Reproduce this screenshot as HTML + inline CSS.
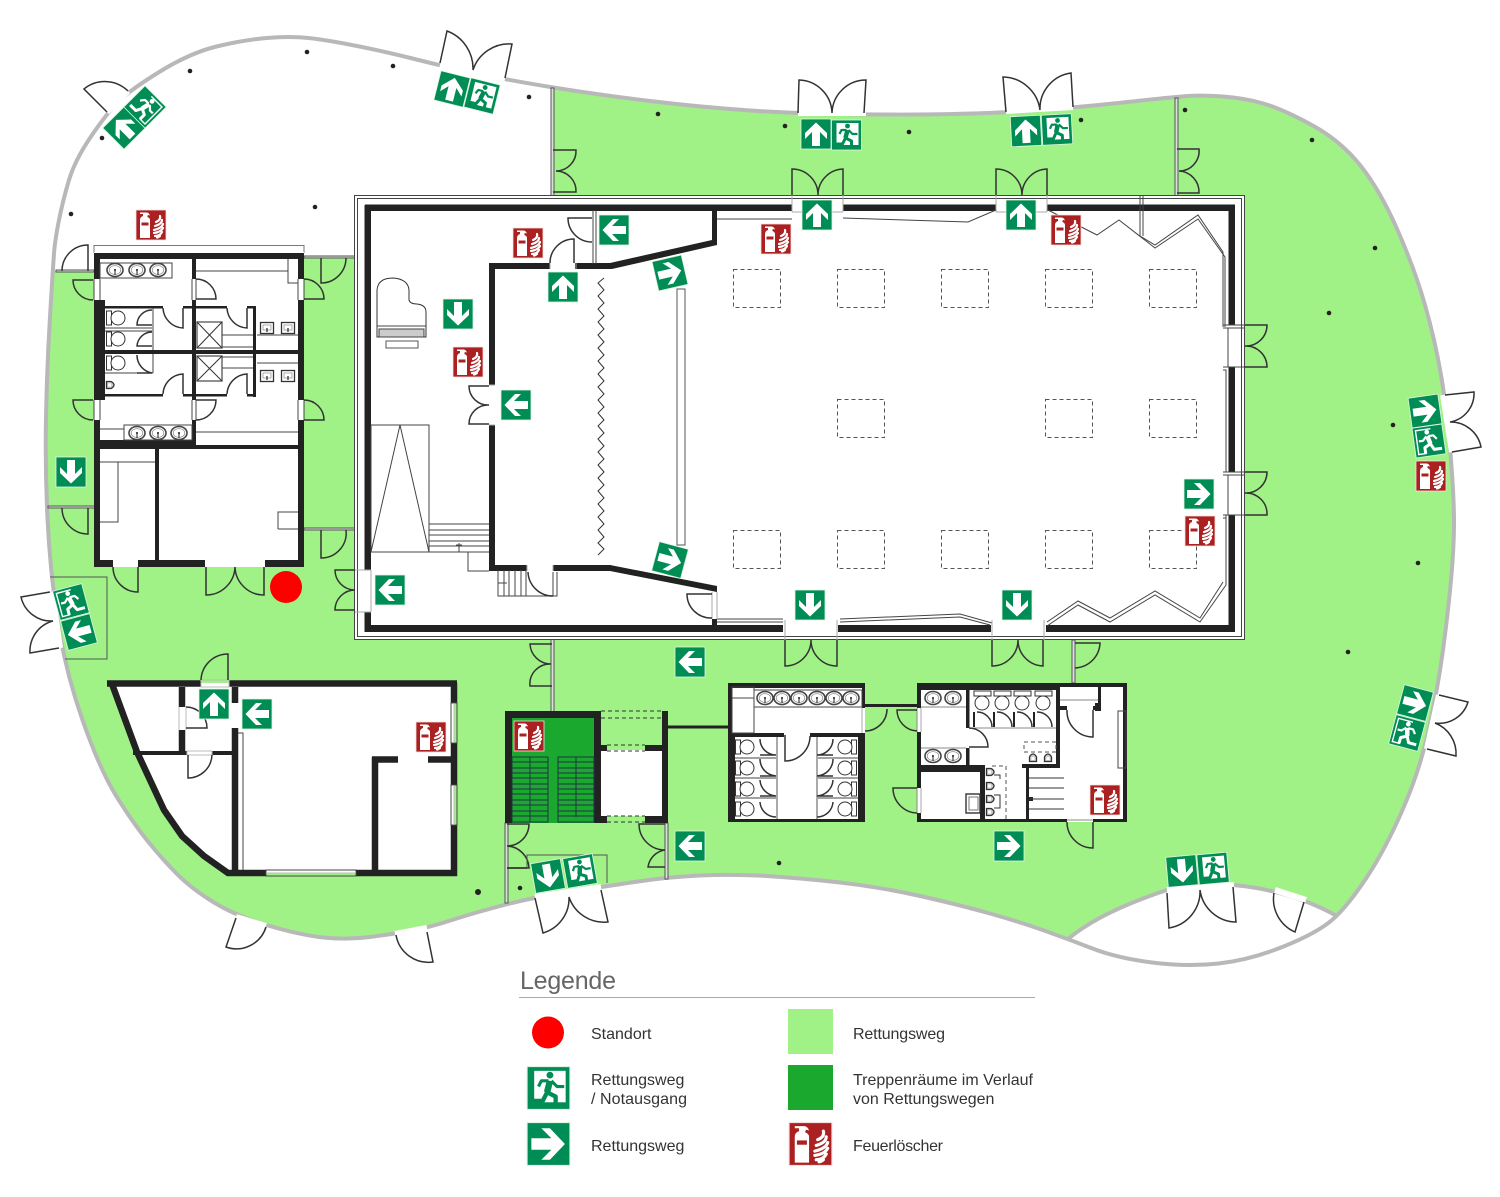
<!DOCTYPE html>
<html>
<head>
<meta charset="utf-8">
<style>
html,body{margin:0;padding:0;background:#fff}
svg{display:block}
text{font-family:"Liberation Sans",sans-serif;fill:#333}
.d{fill:none;stroke:#333;stroke-width:1.5}
.t{fill:none;stroke:#444;stroke-width:1}
.g{fill:#fff;stroke:#777;stroke-width:1}
.w{fill:#222}
.sill{stroke:#fff;stroke-width:6;fill:none}
</style>
</head>
<body>
<svg width="1500" height="1197" viewBox="0 0 1500 1197" xmlns="http://www.w3.org/2000/svg">
<defs>
<path id="blob" d="M91 136.5Q107 113 118.5 101.5Q130 90 160 71.5Q190 53 216.5 46.5Q243 40 266.5 38Q290 36 308.5 38Q327 40 357 46Q387 52 412.5 58.5Q438 65 472.5 72.5Q507 80 553.5 87.5Q600 95 650 101Q700 107 750 110.5Q800 114 880 114.5Q960 115 1016.5 111.5Q1073 108 1123 102.5Q1173 97 1188 96Q1203 95 1223 96.5Q1243 98 1261.5 103Q1280 108 1310 124Q1340 140 1360 165Q1380 190 1397.5 230Q1415 270 1425 305Q1435 340 1441 375Q1447 410 1450.5 453.5Q1454 497 1454 522Q1454 547 1451 580Q1448 613 1443 650Q1438 687 1429 728.5Q1420 770 1402.5 810Q1385 850 1366 878.5Q1347 907 1332 920Q1317 933 1283.5 946.5Q1250 960 1218.5 963.5Q1187 967 1152 962.5Q1117 958 1092.5 948.5Q1068 939 1044 930.5Q1020 922 990 913.5Q960 905 920 896Q880 887 840 882.5Q800 878 766.5 876Q733 874 700 875.5Q667 877 634.5 882Q602 887 568.5 892Q535 897 506 904.5Q477 912 452 920Q427 928 410 931Q393 934 370 937Q347 940 323.5 937.5Q300 935 268 925.5Q236 916 214 902.5Q192 889 177.5 874.5Q163 860 148 841.5Q133 823 116.5 796.5Q100 770 82.5 720Q65 670 57.5 620Q50 570 47.5 518.5Q45 467 46 417Q47 367 50 317Q53 267 54 253.5Q55 240 59 220Q63 200 69 180Q75 160 91 136.5Z"/>
<clipPath id="bc"><use href="#blob"/></clipPath>
<g id="ar"><rect x="-15" y="-15" width="30" height="30" fill="#008c55" stroke="#dff5e0" stroke-width=".8"/><polygon fill="#fff" points="11.5,0 1,-11 -5,-11 2,-4 -12,-4 -12,4 2,4 -5,11 1,11"/></g>
<g id="mn"><rect x="-15" y="-15" width="30" height="30" fill="#008c55" stroke="#dff5e0" stroke-width=".8"/><rect x="-10" y="-12" width="22" height="22" fill="#fff"/><circle cx="1" cy="-9" r="2.4" fill="#008c55"/><g fill="none" stroke="#008c55" stroke-linejoin="round"><path d="M1 -5L-1 3" stroke-width="4.5"/><path d="M2 -5L6 -1H11" stroke-width="2.2"/><path d="M0 -5H-5L-7 -1" stroke-width="2.2"/><path d="M-1 3L5 6L5 12" stroke-width="3"/><path d="M-1 3L-4 9H-11" stroke-width="3"/></g></g>
<g id="mw"><rect x="-15" y="-15" width="30" height="30" fill="#008c55" stroke="#dff5e0" stroke-width=".8"/><path d="M-3 -12H12V12H4" fill="none" stroke="#fff" stroke-width="1.4"/><circle cx="1" cy="-9" r="2.4" fill="#fff"/><g fill="none" stroke="#fff" stroke-linejoin="round"><path d="M1 -5L-1 3" stroke-width="4.5"/><path d="M2 -5L6 -1H10" stroke-width="2.2"/><path d="M0 -5H-5L-8 -1" stroke-width="2.2"/><path d="M-1 3L5 6L5 12" stroke-width="3"/><path d="M-1 3L-4 9H-12" stroke-width="3"/></g></g>
<g id="fe"><rect x="-15" y="-15" width="30" height="30" fill="#ab2020" stroke="#f5dede" stroke-width=".8"/><path d="M-11 -5Q-11 -8 -8 -9V-11H-11V-12.5H-4Q-2 -12 -1 -9.5L-3 -10Q-4 -9 -3.5 -8Q-1 -7 -1 -5V13H-11Z" fill="#fff"/><rect x="-9.5" y="-2.5" width="7" height="3" fill="#ab2020"/><g fill="none" stroke="#fff" stroke-width="2.2" stroke-linecap="round"><path d="M9 -9Q10 -5 5 -3"/><path d="M11 -5Q11 -1 4 1"/><path d="M12 -1Q11 3 3 5"/><path d="M12 3Q10 7 3 8"/><path d="M11 7Q9 11 4 11"/><path d="M9 11Q8 12 6 12.5"/></g></g>
<g id="sk"><ellipse rx="8" ry="6.5" fill="#fff" stroke="#444" stroke-width="1.6"/><ellipse rx="5.8" ry="4.4" fill="#fff" stroke="#888" stroke-width=".7"/><path d="M0 -1V5" stroke="#222" stroke-width="1"/><circle r="1" fill="#222"/></g>
<g id="ss"><rect x="-6.5" y="-5.5" width="13" height="11" fill="#fff" stroke="#333" stroke-width="1.3"/><rect x="-4" y="-3" width="8" height="5" fill="#fff" stroke="#777" stroke-width=".6"/><path d="M0 0V4" stroke="#222" stroke-width="1.2"/></g>
<g id="tl"><rect x="-11.500" y="-7" width="5" height="14" fill="#fff" stroke="#333"/><ellipse cx="0" cy="0" rx="7" ry="7" fill="#fff" stroke="#333"/></g>
<g id="ur"><path d="M-3.5 -3.5H1Q4 -2 4 0Q4 2 1 3.5H-3.5Z" fill="#ccc" stroke="#333" stroke-width="1.3"/><path d="M-2 -1.5H1V1.5H-2Z" fill="#fff"/></g>
</defs>

<!-- site -->
<use href="#blob" fill="#fff"/>
<g clip-path="url(#bc)">
<rect width="1500" height="1000" fill="#a0f286"/>
<polygon fill="#fff" points="0,0 552,0 552,195 355,195 355,256 304,256 304,245 94,245 94,271 0,271"/>
<path fill="#fff" d="M1068 939Q1100 912 1167 890Q1200 884 1233 885Q1290 890 1337 916L1450 1000H1000Z"/>
</g>
<path d="M1068 939Q1100 912 1167 890Q1200 884 1233 885Q1290 890 1337 916" fill="none" stroke="#b8b8b8" stroke-width="4"/>
<use href="#blob" fill="none" stroke="#b8b8b8" stroke-width="4"/>

<!-- exterior door sills -->
<g class="sill">
<path d="M107 112L128 91"/><path d="M440 65L505 79"/><path d="M798 113L866 113"/><path d="M1006 111L1073 107"/>
<path d="M1443 395L1452 452"/><path d="M1439 695L1427 749"/><path d="M52 592L60 648"/>
<path d="M1167 890L1234 885"/><path d="M1275 890L1306 900"/><path d="M236 917L266 926"/><path d="M395 934L427 928"/><path d="M535 897L601 887"/>
</g>
<g class="d">
<path d="M107 112L84 89A33 33 0 0 1 128 91"/>
<path d="M440 63L447 31A40 40 0 0 1 473 70A38 38 0 0 1 512 44L505 78"/>
<path d="M798 113L799 80A34 34 0 0 1 832 113A34 34 0 0 1 866 80L864 113"/>
<path d="M1006 112L1003 77A38 38 0 0 1 1040 110A36 36 0 0 1 1071 73L1073 107"/>
<path d="M1445 395L1474 392A29 29 0 0 1 1450 422A31 31 0 0 1 1481 447L1452 452"/>
<path d="M1439 695L1468 702A30 30 0 0 1 1435 723A33 33 0 0 1 1456 756L1427 749"/>
<path d="M50 592L21 597A31 31 0 0 0 53 621A31 31 0 0 0 30 653L59 648"/>
<path d="M1167 893L1169 928A37 37 0 0 0 1200 890A37 37 0 0 0 1236 922L1233 887"/>
<path d="M1304 902L1295 932A36 36 0 0 1 1274 893"/>
<path d="M236 918L226 947A31 31 0 0 0 266 927"/>
<path d="M427 932L433 962A33 33 0 0 1 396 935"/>
<path d="M535 898L543 933A36 36 0 0 0 569 897A37 37 0 0 0 608 922L601 890"/>
</g>
<path d="M50 577H107V659H65" fill="none" stroke="#555" stroke-width="1"/>

<!-- fences -->
<g fill="#ddd" stroke="#555" stroke-width="1">
<rect x="551" y="88" width="3" height="117"/><rect x="1175" y="98" width="3" height="107"/>
<rect x="551" y="632" width="3" height="80"/><rect x="1072" y="640" width="3" height="43"/>
<rect x="505" y="823" width="3" height="80"/><rect x="665" y="823" width="3" height="56"/>
<rect x="304" y="256" width="61" height="2"/><rect x="304" y="528" width="61" height="2"/>
<rect x="48" y="506" width="47" height="2"/><rect x="56" y="270" width="38" height="2"/>
</g>
<g class="d">
<path d="M553 150H576A20 20 0 0 1 556 171A20 20 0 0 1 576 192H553"/>
<path d="M1177 149H1199A20 20 0 0 1 1179 171A21 21 0 0 1 1199 193H1177"/>
<path d="M552 644H530A21 21 0 0 0 551 664A20 20 0 0 0 530 686H552"/>
<path d="M1075 643H1100A26 26 0 0 1 1075 668"/>
<path d="M507 824H529A22 22 0 0 1 507 846A23 23 0 0 1 529 868H507"/>
<path d="M665 824H639A26 26 0 0 0 665 850A20 20 0 0 0 648 867H665"/>
<path d="M527 868V855H607V883" stroke="#555" stroke-width="1"/><path d="M507 868H527"/>
</g>

<!-- main hall -->
<rect x="354.5" y="195.5" width="890" height="444" fill="#fff" stroke="#444" stroke-width="1"/>
<rect x="357.5" y="198.5" width="884" height="438" fill="none" stroke="#444" stroke-width="1"/>
<g class="w">
<rect x="365" y="204.500" width="427" height="6.500"/><rect x="843" y="204.500" width="153" height="6.500"/><rect x="1047" y="204.500" width="188" height="6.500"/>
<rect x="365" y="625" width="418" height="7"/><rect x="838" y="625" width="153" height="7"/><rect x="1046" y="625" width="189" height="7"/>
<rect x="364.500" y="205" width="6.500" height="365"/><rect x="364.500" y="612" width="6.500" height="20"/>
<rect x="1228.500" y="205" width="6.500" height="120"/><rect x="1228.500" y="367" width="6.500" height="105"/><rect x="1228.500" y="515" width="6.500" height="117"/>
<rect x="489" y="263" width="6" height="122"/><rect x="489" y="425" width="6" height="145"/>
<rect x="489" y="263" width="61" height="6"/><rect x="575" y="263" width="37" height="6"/>
<polygon points="610,263 712,240 712,210 717,210 717,245 612,269"/>
<rect x="489" y="565" width="38" height="6"/><rect x="553" y="565" width="58" height="6"/>
<polygon points="610,565 717,586 717,592 610,571"/>
<rect x="712" y="619" width="5" height="8"/>
</g>
<rect x="365" y="570" width="6" height="42" fill="#fff"/>
<!-- door gaps and zigzag walls -->
<g class="t">
<path d="M355 570H371M355 612H371M371 570V612" stroke="#aaa"/>
<path d="M792 195V212M843 195V212M792 212H843M996 195V212M1047 195V212M996 212H1047" stroke="#aaa"/>
<path d="M717 219H792M843 218L968 222L996 210M1048 210L1097 235L1119 220L1155 248L1198 219L1225 257V327"/>
<path d="M1140 195V236L1155 245L1198 215L1223 252V327M1143 195V236"/>
<path d="M1223 325H1245M1223 328H1245M1228 328V367M1223 367H1245M1223 370H1226V472H1223M1223 472H1245M1223 475H1245M1228 475V515M1223 515H1245M1223 518H1226V582"/>
<path d="M717 622H783M717 619H783M840 622L960 617L990 625M840 619L960 614L992 623M1047 626L1078 605L1110 622L1155 595L1200 622L1226 585V515M1047 622L1078 601L1110 618L1155 591L1200 618L1223 582"/>
<path d="M785 620V640M837 620V640M992 620V640M1044 620V640" stroke="#aaa"/>
<path d="M593 210V264M596 210V264"/>
<path d="M489 385H495M489 425H495M550 263V269M576 263V269M527 565V571M553 565V571M712 592V619M717 592V619" stroke="#aaa"/>
<rect x="677" y="289" width="8" height="256" fill="#fff" stroke="#555"/>
<polyline stroke="#333" points="604,278 598,283 604,290 598,296 604,303 598,309 604,316 598,322 604,329 598,335 604,342 598,348 604,355 598,361 604,368 598,374 604,381 598,387 604,394 598,400 604,407 598,413 604,420 598,426 604,433 598,439 604,446 598,452 604,459 598,465 604,472 598,478 604,485 598,491 604,498 598,504 604,511 598,517 604,524 598,530 604,537 598,543 604,549 598,555"/>
<!-- piano -->
<path d="M377 337V290Q378 278 393 278Q408 279 409 290V300Q410 304 417 304Q426 305 426 312V337Z" fill="#fff" stroke="#333"/>
<path d="M377 326H426"/><rect x="379" y="329" width="45" height="8" fill="#ccc" stroke="#444"/><rect x="386" y="341" width="32" height="7" fill="#fff" stroke="#555"/>
<!-- stage stairs -->
<rect x="371" y="425" width="58" height="127"/><path d="M400 425L371 552M400 425L429 552"/>
<path d="M429 524H489M429 530H489M429 535H489M429 541H489M429 546H489M371 552H489"/>
<path d="M468 552V571H489M459 543V552M456 545H462"/>
<path d="M498 570V596H557V572M504 570V596M509 570V596M515 570V596M521 570V596M526 570V596M553 572V596M498 583H507"/>
</g>
<g class="d">
<path d="M489 386H469A19 19 0 0 0 489 405A19 19 0 0 0 469 424H489"/>
<path d="M550 263A24 24 0 0 1 574 239V263"/>
<path d="M592 218H568A24 24 0 0 0 592 242"/>
<path d="M712 594H687A24 24 0 0 0 712 618"/>
<path d="M528 572A25 25 0 0 0 553 596"/>
<path d="M355 570H335A20 20 0 0 0 355 590A20 20 0 0 0 335 610H355"/>
<path d="M792 195V169A26 26 0 0 1 818 195A26 26 0 0 1 843 169V195"/>
<path d="M996 195V169A26 26 0 0 1 1022 195A26 26 0 0 1 1047 169V195"/>
<path d="M1245 325H1267A21 21 0 0 1 1245 346A21 21 0 0 1 1267 367H1245"/>
<path d="M1245 472H1267A21 21 0 0 1 1245 493A21 21 0 0 1 1267 515H1245"/>
<path d="M785 640V666A26 26 0 0 0 811 640A26 26 0 0 0 837 666V640"/>
<path d="M992 640V666A26 26 0 0 0 1018 640A26 26 0 0 0 1043 666V640"/>
</g>
<!-- pillars -->
<g fill="none" stroke="#555" stroke-width="1" stroke-dasharray="4 3">
<rect x="733.5" y="269.5" width="47" height="38"/><rect x="837.5" y="269.5" width="47" height="38"/><rect x="941.5" y="269.5" width="47" height="38"/><rect x="1045.5" y="269.5" width="47" height="38"/><rect x="1149.5" y="269.5" width="47" height="38"/>
<rect x="837.5" y="399.5" width="47" height="38"/><rect x="1045.5" y="399.5" width="47" height="38"/><rect x="1149.5" y="399.5" width="47" height="38"/>
<rect x="733.5" y="530.5" width="47" height="38"/><rect x="837.5" y="530.5" width="47" height="38"/><rect x="941.5" y="530.5" width="47" height="38"/><rect x="1045.5" y="530.5" width="47" height="38"/><rect x="1149.5" y="530.5" width="47" height="38"/>
</g>

<!-- left building -->
<rect x="94" y="245.5" width="210" height="7" fill="#fff" stroke="#777"/>
<rect x="94" y="252" width="210" height="315" fill="#fff"/>
<g class="w">
<rect x="94" y="253" width="210" height="6"/>
<rect x="94" y="253" width="6" height="26"/><rect x="94" y="300" width="11" height="100"/><rect x="94" y="420" width="6" height="147"/>
<rect x="298" y="253" width="6" height="26"/><rect x="298" y="300" width="6" height="100"/><rect x="298" y="420" width="6" height="147"/>
<rect x="94" y="560" width="19" height="7"/><rect x="138" y="560" width="67" height="7"/><rect x="265" y="560" width="39" height="7"/>
<rect x="192" y="259" width="4" height="20"/><rect x="192" y="300" width="4" height="100"/><rect x="192" y="420" width="4" height="26"/>
<rect x="94" y="440" width="102" height="8"/><rect x="94" y="445" width="210" height="4"/>
<rect x="155" y="448" width="4" height="113"/>
<rect x="100" y="350" width="198" height="4"/>
<rect x="100" y="306" width="63" height="2.5"/><rect x="183" y="306" width="44" height="2.5"/><rect x="247" y="306" width="9" height="2.5"/>
<rect x="100" y="394" width="63" height="2.5"/><rect x="183" y="394" width="44" height="2.5"/><rect x="247" y="394" width="9" height="2.5"/>
<rect x="253" y="306" width="3" height="91"/>
</g>
<g class="t" stroke="#777">
<path d="M94 279V300M100 279V300M94 400V420M100 400V420M298 279V300M304 279V300M298 400V420M304 400V420M192 279V300M196 279V300M192 400V420M196 400V420"/>
<rect x="100" y="263" width="72" height="15"/>
<rect x="124" y="425" width="68" height="15"/>
<path d="M100 429H124M196 432H298M196 271H288M288 259V283H298"/>
<path d="M153 308V350M153 354V373M105 328H152M105 373H153M105 331H152"/>
<rect x="197" y="322" width="25" height="26" stroke="#555" stroke-width="1.3"/><path d="M197 322L222 348M222 322L197 348" stroke="#333"/>
<rect x="197" y="356" width="25" height="25" stroke="#555" stroke-width="1.3"/><path d="M197 356L222 381M222 356L197 381" stroke="#333"/>
<path d="M222 335H253M222 347H253M222 357H253M222 368H253M257 335H298M257 363H298"/>
<path d="M100 462H155M118 462V522H100M278 529V512H298M278 529H298"/>
</g>
<use href="#sk" x="115" y="270"/><use href="#sk" x="137" y="270"/><use href="#sk" x="158" y="270"/>
<use href="#sk" x="137" y="433"/><use href="#sk" x="158" y="433"/><use href="#sk" x="179" y="433"/>
<use href="#ss" x="267" y="328"/><use href="#ss" x="288" y="328"/><use href="#ss" x="267" y="376"/><use href="#ss" x="288" y="376"/>
<use href="#tl" x="118" y="318"/><use href="#tl" x="118" y="339"/><use href="#tl" x="118" y="363"/><use href="#ur" x="110" y="385"/>
<g class="d">
<path d="M88 271V245A26 26 0 0 0 62 271"/><path d="M93 280H73A20 20 0 0 0 93 300"/><path d="M93 400H73A20 20 0 0 0 93 420"/>
<path d="M304 279A20 20 0 0 1 324 299H304"/><path d="M304 400A20 20 0 0 1 324 420H304"/>
<path d="M321 258V283A25 25 0 0 0 346 258"/><path d="M321 530V558A25 25 0 0 0 346 530"/>
<path d="M88 508V534A26 26 0 0 1 62 508"/>
<path d="M138 567V592A25 25 0 0 1 113 567"/>
<path d="M206 567V595A29 29 0 0 0 235 567A29 29 0 0 0 264 595V567"/>
<path d="M196 279A20 20 0 0 1 216 299H196"/><path d="M196 420A20 20 0 0 0 216 400H196"/>
<path d="M163 308A21 21 0 0 0 183 328V308"/><path d="M163 394A21 21 0 0 1 183 374V394"/>
<path d="M227 308A21 21 0 0 0 247 328V308"/><path d="M227 394A21 21 0 0 1 247 374V394"/>
<path d="M152 310A15 15 0 0 0 137 325H152"/><path d="M152 332A15 15 0 0 0 137 346H152"/><path d="M137 355A18 18 0 0 0 152 373H137"/>
</g>

<!-- lower-left building -->
<polygon fill="#fff" points="110,683 454,683 454,873 228,873 204,856 182,836 164,810 137,752"/>
<g fill="none" stroke="#222" stroke-width="6.5">
<path d="M107 683.5H201M229 683.5H457"/>
<path d="M112 684L137 752L164 810L182 836L204 856L228 873H266"/>
<path d="M356 873H457"/>
<path d="M454 683V703M454 743V785M454 825V876"/>
<path d="M235 687V703M235 728V873"/>
<path d="M375 873V757M372 759.5H398M428 759.5H451"/>
<path d="M182 687V707M182 730V753"/>
</g>
<path d="M133 753H187M212 753H232" stroke="#222" stroke-width="4"/>
<g class="t" stroke="#777">
<path d="M451 703H457V743H451ZM451 785H457V825H451ZM266 870H356V876H266Z M238 733H243V870"/>
<path d="M454 703V743M454 785V825M266 873H356" stroke="#bbb"/>
<path d="M201 680H229V687H201ZM179 707V730M186 707V730M187 751H212V755H187Z" stroke="#bbb"/>
</g>
<g class="d">
<path d="M201 680A27 27 0 0 1 228 654V680"/>
<path d="M188 755V778A24 24 0 0 0 212 755"/>
<path d="M186 707A21 21 0 0 1 207 728H186"/>
</g>

<!-- stair block -->
<rect x="511" y="717" width="84" height="106" fill="#1ba82e"/>
<rect x="601" y="750" width="62" height="66" fill="#fff"/>
<g class="w">
<rect x="505" y="711" width="96" height="7"/><rect x="505" y="711" width="7" height="112"/><rect x="594" y="711" width="7" height="112"/>
<rect x="662" y="711" width="6" height="112"/>
<rect x="601" y="745" width="6" height="6"/><rect x="645" y="745" width="17" height="6"/>
<rect x="601" y="816" width="6" height="7"/><rect x="645" y="816" width="17" height="7"/>
<rect x="668" y="725.500" width="62" height="3"/>
<rect x="865" y="704" width="53" height="3"/>
</g>
<g fill="none" stroke="#333" stroke-width="1" stroke-dasharray="4 3">
<path d="M601 711H662M601 718H662M607 745H645M607 751H645M607 816H645M607 822H645"/>
</g>
<g fill="none" stroke="#234" stroke-width="1">
<path d="M512 757V822H548V757ZM558 757V822H594V757Z M530 757V822M576 757V817"/>
<path d="M512 762H548M512 768H548M512 773H548M512 778H548M512 784H548M512 789H548M512 794H548M512 800H548M512 805H548M512 811H548M512 816H548"/>
<path d="M558 762H594M558 768H594M558 773H594M558 778H594M558 784H594M558 789H594M558 794H594M558 800H594M558 805H594M558 811H594M558 816H594"/>
</g>

<!-- restroom 1 -->
<rect x="728" y="683" width="137" height="139" fill="#fff"/>
<g class="w">
<rect x="728" y="683" width="137" height="5"/><rect x="728" y="683" width="4" height="139"/><rect x="862" y="683" width="3" height="25"/><rect x="862" y="733" width="3" height="89"/>
<rect x="728" y="733" width="56" height="4"/><rect x="810" y="733" width="55" height="4"/><rect x="728" y="819" width="137" height="3"/>
<rect x="732" y="737" width="3" height="82"/><rect x="858" y="737" width="4" height="82"/>
</g>
<g class="t" stroke="#777">
<rect x="732" y="687" width="22" height="46"/><path d="M732 698H754"/>
<rect x="754" y="690" width="108" height="17"/>
<path d="M735 758H777M735 778H777M735 798H777M817 758H858M817 778H858M817 798H858" stroke="#444"/>
<path d="M777 737V819M817 737V819" stroke="#aaa" stroke-width="2"/>
<path d="M862 708V733" stroke="#aaa"/>
</g>
<use href="#sk" x="765" y="698"/><use href="#sk" x="782" y="698"/><use href="#sk" x="799" y="698"/><use href="#sk" x="817" y="698"/><use href="#sk" x="834" y="698"/><use href="#sk" x="851" y="698"/>
<use href="#tl" x="747" y="747"/><use href="#tl" x="747" y="768"/><use href="#tl" x="747" y="789"/><use href="#tl" x="747" y="809"/>
<use href="#tl" transform="translate(845 747) scale(-1 1)"/><use href="#tl" transform="translate(845 768) scale(-1 1)"/><use href="#tl" transform="translate(845 789) scale(-1 1)"/><use href="#tl" transform="translate(845 809) scale(-1 1)"/>
<g class="d">
<path d="M785 735V761A25 25 0 0 0 810 736"/>
<path d="M865 731A22 22 0 0 0 887 709"/>
<path d="M760 739A16 16 0 0 0 776 755H760M760 759A17 17 0 0 0 776 776H760M760 780A17 17 0 0 0 776 796H760M760 802A16 16 0 0 0 776 817"/>
<path d="M833 739A16 16 0 0 1 817 755H833M833 759A17 17 0 0 1 817 776H833M833 780A17 17 0 0 1 817 796H833M833 802A16 16 0 0 1 817 817"/>
</g>

<!-- restroom 2 -->
<rect x="917" y="683" width="210" height="139" fill="#fff"/>
<g class="w">
<rect x="917" y="683" width="143" height="7"/><rect x="1060" y="683" width="67" height="4"/>
<rect x="917" y="683" width="4" height="25"/><rect x="917" y="732" width="4" height="56"/><rect x="917" y="813" width="4" height="9"/>
<rect x="1123" y="683" width="4" height="139"/>
<rect x="917" y="819" width="150" height="3"/><rect x="1093" y="819" width="34" height="3"/>
<rect x="966" y="690" width="3.500" height="38"/><rect x="966" y="748" width="3.500" height="17"/>
<rect x="917" y="765" width="68" height="7"/><rect x="980" y="765" width="5" height="54"/>
<rect x="1026" y="766" width="3" height="53"/><rect x="1022" y="764" width="38" height="4"/><rect x="1056" y="690" width="4" height="78"/>
<rect x="1060" y="706" width="7" height="4"/><rect x="1093" y="706" width="8" height="4"/><rect x="1098" y="687" width="3" height="23"/>
<rect x="1028" y="797" width="5" height="4"/><rect x="1095" y="703" width="6" height="8"/>
<rect x="973" y="712" width="2" height="15"/><rect x="993" y="712" width="2" height="15"/><rect x="1013" y="712" width="2" height="15"/><rect x="1033" y="712" width="2" height="15"/>
</g>
<g class="t" stroke="#777">
<rect x="1118" y="711" width="8" height="57"/>
<path d="M921 707H966M921 748H966M969 728H1056M1060 700H1098M917 708V732M917 788V813M1067 820H1093" stroke="#888"/>
<path d="M921 732V708M921 788V813" stroke="#aaa"/>
</g>
<g stroke="#333" fill="none">
<path d="M1029 778H1064M1029 788H1064M1029 799H1064M1029 809H1064"/>
<path d="M1006 766V819M1024 742H1056V752H1024ZM992 766H1006" stroke-dasharray="4 3" stroke="#555"/>
<path d="M994 775H1000V779M994 795H1000V808H994"/>
<rect x="966" y="794" width="14" height="19" fill="#fff" stroke-width="1.4"/><rect x="969" y="797" width="9" height="13" stroke="#777"/>
</g>
<use href="#sk" x="933" y="698"/><use href="#sk" x="953" y="698"/><use href="#sk" x="933" y="756"/><use href="#sk" x="953" y="756"/>
<g fill="#fff" stroke="#333">
<rect x="974" y="691" width="17" height="5"/><circle cx="982" cy="703" r="7"/>
<rect x="994" y="691" width="17" height="5"/><circle cx="1002" cy="703" r="7"/>
<rect x="1014" y="691" width="17" height="5"/><circle cx="1022" cy="703" r="7"/>
<rect x="1035" y="691" width="17" height="5"/><circle cx="1043" cy="703" r="7"/>
</g>
<use href="#ur" x="990" y="772"/><use href="#ur" x="990" y="786"/><use href="#ur" x="990" y="799"/><use href="#ur" x="990" y="812"/>
<use href="#ur" transform="translate(1033 758) rotate(-90)"/><use href="#ur" transform="translate(1048 758) rotate(-90)"/>
<g class="d">
<path d="M977 712A15 15 0 0 1 992 727"/><path d="M997 712A15 15 0 0 1 1012 727"/><path d="M1017 712A15 15 0 0 1 1032 727"/><path d="M1037 712A15 15 0 0 1 1052 727"/>
<path d="M1067 710A26 26 0 0 0 1093 737V710"/>
<path d="M1067 822A26 26 0 0 0 1093 848V822"/>
<path d="M917 710H897A21 21 0 0 0 917 731"/>
<path d="M917 788H893A25 25 0 0 0 917 813"/>
<path d="M969 728A19 19 0 0 1 988 747H969"/>
</g>

<!-- dots -->
<g fill="#222">
<circle cx="307" cy="52" r="2.3"/><circle cx="393" cy="66" r="2.3"/><circle cx="190" cy="71" r="2.3"/><circle cx="102" cy="138" r="2.3"/><circle cx="71" cy="214" r="2.3"/><circle cx="315" cy="207" r="2.3"/><circle cx="529" cy="97" r="2.3"/>
<circle cx="658" cy="114" r="2.3"/><circle cx="785" cy="126" r="2.3"/><circle cx="909" cy="132" r="2.3"/><circle cx="1081" cy="120" r="2.3"/><circle cx="1185" cy="110" r="2.3"/><circle cx="1312" cy="140" r="2.3"/><circle cx="1375" cy="248" r="2.3"/><circle cx="1329" cy="313" r="2.3"/><circle cx="1393" cy="425" r="2.3"/><circle cx="1418" cy="563" r="2.3"/><circle cx="1348" cy="652" r="2.3"/><circle cx="779" cy="863" r="2.3"/><circle cx="478" cy="892" r="3"/><circle cx="520" cy="888" r="2.3"/>
</g>

<circle cx="286" cy="587" r="16" fill="#ff0000"/>

<!-- arrow signs -->
<use href="#ar" transform="translate(817 215) rotate(-90)"/>
<use href="#ar" transform="translate(1021 215) rotate(-90)"/>
<use href="#ar" transform="translate(563 287) rotate(-90)"/>
<use href="#ar" transform="translate(214 704) rotate(-90)"/>
<use href="#ar" transform="translate(614 230) rotate(180)"/>
<use href="#ar" transform="translate(516 405) rotate(180)"/>
<use href="#ar" transform="translate(390 590) rotate(180)"/>
<use href="#ar" transform="translate(257 714) rotate(180)"/>
<use href="#ar" transform="translate(690 662) rotate(180)"/>
<use href="#ar" transform="translate(690 846) rotate(180)"/>
<use href="#ar" transform="translate(458 314) rotate(90)"/>
<use href="#ar" transform="translate(71 472) rotate(90)"/>
<use href="#ar" transform="translate(810 605) rotate(90)"/>
<use href="#ar" transform="translate(1017 605) rotate(90)"/>
<use href="#ar" transform="translate(1199 494)"/>
<use href="#ar" transform="translate(1009 846)"/>
<use href="#ar" transform="translate(670 273) rotate(-13)"/>
<use href="#ar" transform="translate(670 560) rotate(15)"/>

<!-- combos -->
<use href="#ar" transform="translate(124 128) rotate(-135)"/>
<use href="#mw" transform="translate(145 107) rotate(45)"/>
<use href="#ar" transform="translate(452 89) rotate(-76)"/>
<use href="#mn" transform="translate(482 96) rotate(14)"/>
<use href="#ar" transform="translate(816 134) rotate(-90)"/>
<use href="#mn" transform="translate(846.500 135)"/>
<use href="#ar" transform="translate(1026 131) rotate(-93)"/>
<use href="#mn" transform="translate(1057 129.500) rotate(-3)"/>
<use href="#ar" transform="translate(1425 411) rotate(-8)"/>
<use href="#mw" transform="translate(1429 441) rotate(-8) scale(-1 1)"/>
<use href="#ar" transform="translate(1415 703) rotate(15)"/>
<use href="#mw" transform="translate(1407 733) rotate(15) scale(-1 1)"/>
<use href="#ar" transform="translate(1182 871) rotate(85)"/>
<use href="#mn" transform="translate(1213 868.500) rotate(-5)"/>
<use href="#ar" transform="translate(548 876) rotate(80)"/>
<use href="#mn" transform="translate(580 871) rotate(-10)"/>
<use href="#mw" transform="translate(71 602) rotate(-15) scale(-1 1)"/>
<use href="#ar" transform="translate(79 632) rotate(165)"/>

<!-- extinguishers -->
<use href="#fe" x="151" y="225"/><use href="#fe" x="528" y="243"/><use href="#fe" x="468" y="362"/><use href="#fe" x="776" y="239"/><use href="#fe" x="1066" y="230"/><use href="#fe" x="1200" y="531"/><use href="#fe" x="431" y="737"/><use href="#fe" x="529" y="736"/><use href="#fe" x="1105" y="800"/><use href="#fe" x="1431" y="476"/>

<!-- legend -->
<text x="520" y="989" font-size="25" textLength="96" style="fill:#666">Legende</text>
<path d="M519 997.500H1035" stroke="#aaa" stroke-width="1"/>
<circle cx="548" cy="1032.500" r="16" fill="#ff0000"/>
<text x="591" y="1039" font-size="16">Standort</text>
<use href="#mn" transform="translate(548.500 1088) scale(1.43)"/>
<text x="591" y="1085" font-size="16">Rettungsweg</text>
<text x="591" y="1104" font-size="16" textLength="96">/ Notausgang</text>
<use href="#ar" transform="translate(548.500 1144) scale(1.43)"/>
<text x="591" y="1151" font-size="16">Rettungsweg</text>
<rect x="788" y="1009" width="45" height="45" fill="#a0f286"/>
<text x="853" y="1039" font-size="16" textLength="92">Rettungsweg</text>
<rect x="788" y="1065" width="45" height="45" fill="#1ba82e"/>
<text x="853" y="1085" font-size="16">Treppenräume im Verlauf</text>
<text x="853" y="1104" font-size="16">von Rettungswegen</text>
<use href="#fe" transform="translate(810.500 1144) scale(1.43)"/>
<text x="853" y="1151" font-size="16" textLength="90">Feuerlöscher</text>
</svg>
</body>
</html>
